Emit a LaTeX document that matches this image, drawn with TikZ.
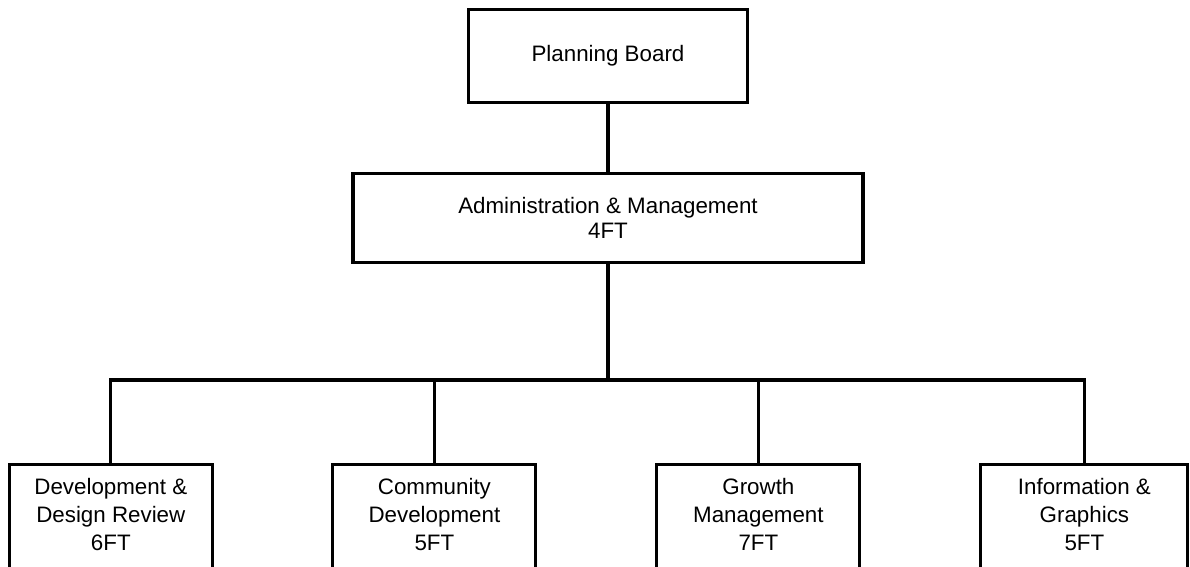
\documentclass[tikz,border=0pt]{standalone}
\usepackage{fontspec}
\setmainfont{Liberation Sans}
\usepackage{tikz}

\tikzset{
  unit/.style={draw, line width=2.2pt, align=center, inner sep=0pt,
    font=\fontsize{15.9}{17.8}\selectfont},
  division/.style={unit, anchor=north, minimum width=5.075cm, minimum height=2.85cm,
    font=\fontsize{15.9}{19.9}\selectfont, text depth=0.35cm},
  link/.style={line width=2.2pt},
}

\begin{document}
\begin{tikzpicture}

		% Marco del dibujo
		\useasboundingbox (0,0) rectangle (29.75,-14.175);

		% Direccion
		\node[unit, minimum width=6.975cm, minimum height=2.325cm] (board) at (15.2,-1.39) {Planning Board};
		\node[unit, minimum width=12.75cm, minimum height=2.225cm] (admin) at (15.2,-5.44) {Administration \& Management\\4FT};
		\coordinate (bus) at (15.2,-9.5); % Linea de reparto

		% Divisiones
		\node[division] (devrev) at (2.77,-11.575) {Development \&\\Design Review\\6FT};
		\node[division] (community) at (10.86,-11.575) {Community\\Development\\5FT};
		\node[division] (growth) at (18.96,-11.575) {Growth\\Management\\7FT};
		\node[division, minimum width=5.175cm] (info) at (27.11,-11.575) {Information \&\\Graphics\\5FT};

		% Conexiones
		\draw[link] (board) -- (admin);
		\draw[link] (admin) -- (bus);
		\foreach \d in {devrev, community, growth, info}
			\draw[link] (bus) -| (\d.north);

	\end{tikzpicture}
\end{document}
